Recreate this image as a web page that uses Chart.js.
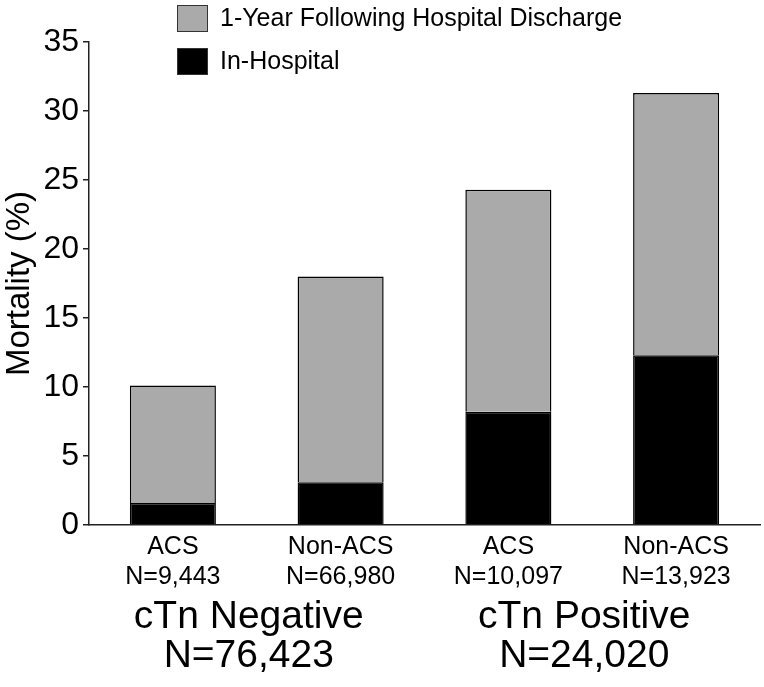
<!DOCTYPE html>
<html>
<head>
<meta charset="utf-8">
<script src="https://cdn.jsdelivr.net/npm/chart.js@4.4.1/dist/chart.umd.min.js"></script>
<style>
    body { margin: 0; background: #fff; }
</style>
</head>
<body>
<canvas id="myChart" width="764" height="687"></canvas>
<script>
// datos
const categorias = [['ACS', 'N=9,443'], ['Non-ACS', 'N=66,980'], ['ACS', 'N=10,097'], ['Non-ACS', 'N=13,923']];
const grupos = [['cTn Negative', 'N=76,423'], ['cTn Positive', 'N=24,020']];
const enHospital = [1.6, 3.1, 8.2, 12.3];
const unAnio = [8.5, 14.9, 16.1, 19.0];
const ticksY = [0, 5, 10, 15, 20, 25, 30, 35];

const fuente = 'Liberation Sans, Arial, Helvetica, sans-serif';
Chart.defaults.font.family = fuente;
Chart.defaults.color = '#000';

// leyenda vertical arriba, como en la figura
const leyenda = {
    id: 'leyenda',
    afterDraw(chart) {
        const ctx = chart.ctx;
        const items = chart.data.datasets.slice().reverse();
        ctx.save();
        items.forEach((ds, i) => {
            const y = 5 + i * 43;
            ctx.fillStyle = ds.backgroundColor;
            ctx.fillRect(177, y, 31, 27);
            ctx.strokeStyle = '#333';
            ctx.lineWidth = 1;
            ctx.strokeRect(177.5, y + 0.5, 30, 26);
            ctx.fillStyle = '#000';
            ctx.font = '25px ' + fuente;
            ctx.textBaseline = 'middle';
            ctx.fillText(ds.label, 220, y + 14);
        });
        ctx.restore();
    }
};

const ctx = document.getElementById('myChart');

const grafica = new Chart(ctx, {
    type: 'bar',
    data: {
        labels: categorias,
        datasets: [{
            label: 'In-Hospital',
            data: enHospital,
            backgroundColor: '#000000',
            borderColor: '#000',
            borderWidth: 1.5,
            barPercentage: 0.513,
            categoryPercentage: 1
        }, {
            label: '1-Year Following Hospital Discharge',
            data: unAnio,
            backgroundColor: '#aaaaaa',
            borderColor: '#000',
            borderWidth: 1.5,
            barPercentage: 0.513,
            categoryPercentage: 1
        }]
    },
    options: {
        responsive: false,
        animation: false,
        layout: {
            padding: { top: 42, right: 4, left: 0, bottom: 0 }
        },
        plugins: {
            legend: { display: false },
            tooltip: { enabled: false }
        },
        scales: {
            x: {
                stacked: true,
                grid: { display: false, drawTicks: false },
                border: { display: true, color: '#222', width: 1.5 },
                ticks: {
                    autoSkip: false,
                    maxRotation: 0,
                    padding: 7,
                    font: { size: 25, lineHeight: '30px' }
                },
                afterFit: (s) => { s.height = 68; }
            },
            x2: {
                type: 'category',
                labels: grupos,
                position: 'bottom',
                weight: 1,
                grid: { display: false, drawTicks: false },
                border: { display: false },
                ticks: {
                    padding: 5,
                    labelOffset: -8,
                    font: { size: 39, lineHeight: '39px' }
                },
                afterFit: (s) => { s.height = 94; }
            },
            y: {
                stacked: true,
                min: 0,
                max: 35,
                afterBuildTicks: (s) => { s.ticks = ticksY.map(v => ({ value: v })); },
                ticks: {
                    padding: 4,
                    font: { size: 32 }
                },
                grid: {
                    drawOnChartArea: false,
                    tickLength: 6,
                    color: '#222',
                    lineWidth: 1.5
                },
                border: { color: '#222', width: 1.5 },
                title: {
                    display: true,
                    text: 'Mortality (%)',
                    padding: 0,
                    font: { size: 33 }
                },
                afterFit: (s) => { s.width = 89; }
            }
        }
    },
    plugins: [leyenda]
});
</script>
</body>
</html>
